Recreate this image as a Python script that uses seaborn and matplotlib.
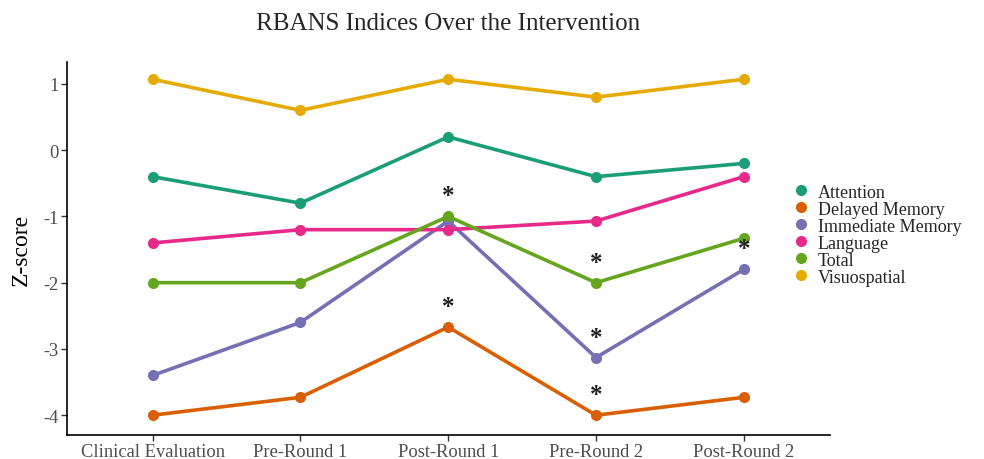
import pandas as pd
import seaborn as sns
import matplotlib.pyplot as plt
from matplotlib.lines import Line2D

stages = ['Clinical Evaluation', 'Pre-Round 1', 'Post-Round 1', 'Pre-Round 2', 'Post-Round 2']
indices = ['Attention', 'Delayed Memory', 'Immediate Memory', 'Language', 'Total', 'Visuospatial']

attention = [-0.4, -0.8, 0.2, -0.4, -0.2]
delayed_memory = [-4.0, -3.73, -2.67, -4.0, -3.73]
immediate_memory = [-3.4, -2.6, -1.07, -3.13, -1.8]
language = [-1.4, -1.2, -1.2, -1.07, -0.4]
total = [-2.0, -2.0, -1.0, -2.0, -1.33]
visuospatial = [1.07, 0.6, 1.07, 0.8, 1.07]

# significant points marked with *
significant = [('Post-Round 1', 'Total'), ('Post-Round 1', 'Delayed Memory'),
               ('Pre-Round 2', 'Total'), ('Pre-Round 2', 'Immediate Memory'),
               ('Pre-Round 2', 'Delayed Memory'), ('Post-Round 2', 'Immediate Memory')]

colors = ['#1B9E77', '#D95F02', '#7570B3', '#E7298A', '#66A61E', '#E6AB02']

values = [attention, delayed_memory, immediate_memory, language, total, visuospatial]
rows = []
for name, vals in zip(indices, values):
    for s, v in zip(stages, vals):
        rows.append({'stage': s, 'index': name, 'z': v, 'x': stages.index(s)})
df = pd.DataFrame(rows)

sns.set_style('white')
plt.rcParams['font.family'] = ['Liberation Serif', 'DejaVu Serif']
plt.rcParams['axes.unicode_minus'] = False

fig = plt.figure(figsize=(9.84, 4.6), dpi=100)
ax = fig.add_axes([0.068, 0.052, 0.775, 0.811])

palette = dict(zip(indices, colors))
sns.lineplot(data=df, x='x', y='z', hue='index', palette=palette, marker='o',
             markersize=8, markeredgewidth=0, linewidth=2.6, legend=False, ax=ax)

for s, name in significant:
    v = df[(df.stage == s) & (df['index'] == name)].z.iloc[0]
    ax.text(stages.index(s), v + 0.31, '*', ha='center', va='center',
            fontsize=18, fontweight='bold', color='#222222')

ax.set_xlim(-0.58, 4.58)
ax.set_ylim(-4.3, 1.33)
ax.set_xticks(range(len(stages)))
ax.set_xticklabels(stages)
ax.set_yticks([-4, -3, -2, -1, 0, 1])
ax.tick_params(axis='both', labelsize=13.3, colors='#333333', length=4, width=1,
               direction='out', bottom=True, left=True, pad=2)
for lab in ax.get_xticklabels() + ax.get_yticklabels():
    lab.set_color('#4D4D4D')
ax.set_xlabel('')
ax.set_ylabel('Z-score', fontsize=17, color='black', labelpad=8)
for side in ['top', 'right']:
    ax.spines[side].set_visible(False)
for side in ['left', 'bottom']:
    ax.spines[side].set_color('black')
    ax.spines[side].set_linewidth(1.2)
ax.grid(False)
ax.set_title('RBANS Indices Over the Intervention', fontsize=18, pad=24)

handles = [Line2D([], [], marker='o', linestyle='', color=c, markersize=8, markeredgewidth=0)
           for c in colors]
fig.legend(handles, indices, loc='center left', bbox_to_anchor=(0.787, 0.488), frameon=False,
           fontsize=13, handletextpad=0.3, labelspacing=0.0, handlelength=1.2)

fig.savefig('out.png', dpi=100)
